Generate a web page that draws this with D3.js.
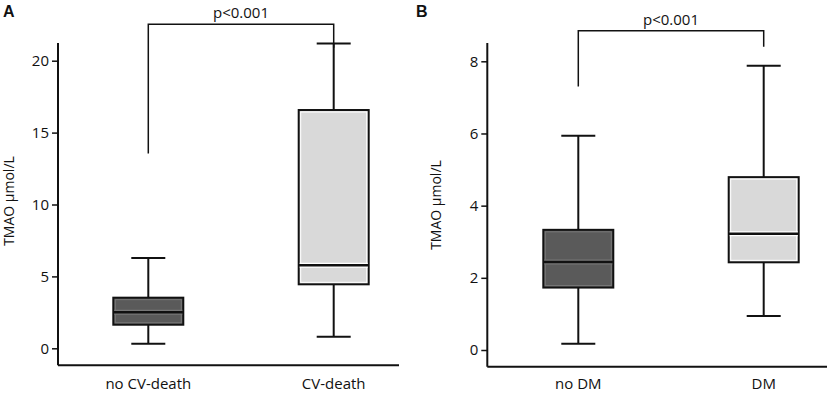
<!DOCTYPE html>
<html><head><meta charset="utf-8">
<script src="https://cdn.jsdelivr.net/npm/d3@7"></script>
<style>body{margin:0;background:#fff}svg{display:block}text{font-family:"Open Sans",sans-serif;fill:#111}</style>
</head><body><svg width="829" height="394"></svg>
<script>
// Panel A
const catsA = ["no CV-death", "CV-death"];
const statsA = [ // [min, q1, median, q3, max]
  [0.32, 1.64, 2.5, 3.52, 6.28],
  [0.81, 4.45, 5.77, 16.57, 21.2]
];
const ticksA = [0, 5, 10, 15, 20];
const bracketA = {left: 13.55, right: 20.9, label: "p<0.001"};
// Panel B
const catsB = ["no DM", "DM"];
const statsB = [
  [0.17, 1.73, 2.44, 3.33, 5.94],
  [0.94, 2.43, 3.22, 4.79, 7.88]
];
const ticksB = [0, 2, 4, 6, 8];
const bracketB = {left: 7.3, right: 8.4, label: "p<0.001"};
const fills = ["#5a5a5a", "#d9d9d9"];
const yLabel = "TMAO µmol/L";

const svg = d3.select("svg");

function panel(o) {
  const g = svg.append("g");
  const y = d3.scaleLinear().domain(o.domain).range(o.yRange);
  const x = d3.scalePoint().domain(o.cats).range(o.xPts);
  g.append("line").attr("x1", o.axisX).attr("x2", o.axisX).attr("y1", o.axisTop).attr("y2", o.axisBottom)
    .attr("stroke", "#111").attr("stroke-width", 2);
  g.append("line").attr("x1", o.axisX).attr("x2", o.axisRight).attr("y1", o.axisBottom).attr("y2", o.axisBottom)
    .attr("stroke", "#111").attr("stroke-width", 2);
  const ax = g.append("g").attr("transform", `translate(${o.axisX},0)`)
    .call(d3.axisLeft(y).tickValues(o.ticks).tickSize(6).tickPadding(3).tickFormat(d3.format("d")));
  ax.select(".domain").remove();
  ax.selectAll(".tick line").attr("stroke", "#111").attr("stroke-width", 1.5);
  ax.selectAll(".tick text").style("font-size", "15px").style("font-family", "Open Sans").attr("fill", "#111");
  g.selectAll(".xl").data(o.cats).enter().append("text")
    .attr("x", d => x(d)).attr("y", 389).attr("text-anchor", "middle").style("font-size", "15px").text(d => d);
  g.append("text").attr("transform", `translate(${o.ylabX},${o.ylabY}) rotate(-90)`)
    .attr("text-anchor", "middle").style("font-size", "14px").text(yLabel);
  g.append("text").attr("x", o.letterX).attr("y", 17).style("font-size", "16px").style("font-weight", "bold")
    .style("font-family", "Liberation Sans, Arial").text(o.letter);
  const bw = 70, cw = 34;
  o.stats.forEach((s, i) => {
    const cx = x(o.cats[i]);
    const bg = g.append("g");
    bg.append("line").attr("x1", cx).attr("x2", cx).attr("y1", y(s[0])).attr("y2", y(s[4])).attr("stroke", "#111").attr("stroke-width", 2);
    [s[0], s[4]].forEach(v => bg.append("line").attr("x1", cx - cw / 2).attr("x2", cx + cw / 2)
      .attr("y1", y(v)).attr("y2", y(v)).attr("stroke", "#111").attr("stroke-width", 2));
    bg.append("rect").attr("x", cx - bw / 2).attr("width", bw).attr("y", y(s[3])).attr("height", y(s[1]) - y(s[3]))
      .attr("fill", fills[i]).attr("stroke", "#111").attr("stroke-width", 2);
    const inner = i === 1 ? "#fff" : "#777";
    bg.append("rect").attr("x", cx - bw / 2 + 2).attr("width", bw - 4).attr("y", y(s[3]) + 2).attr("height", y(s[1]) - y(s[3]) - 4)
      .attr("fill", "none").attr("stroke", inner).attr("stroke-width", 1);
    bg.append("line").attr("x1", cx - bw / 2 + 1).attr("x2", cx + bw / 2 - 1).attr("y1", y(s[2])).attr("y2", y(s[2]))
      .attr("stroke", inner).attr("stroke-width", 5);
    bg.append("line").attr("x1", cx - bw / 2).attr("x2", cx + bw / 2).attr("y1", y(s[2])).attr("y2", y(s[2]))
      .attr("stroke", "#111").attr("stroke-width", 2.5);
  });
  const xl = x(o.cats[0]), xr = x(o.cats[1]);
  g.append("path").attr("d", `M${xl},${y(o.bracket.left)}V${o.bracketTop}H${xr}V${y(o.bracket.right)}`)
    .attr("fill", "none").attr("stroke", "#111").attr("stroke-width", 1.5);
  g.append("text").attr("x", (xl + xr) / 2).attr("y", o.bracketTop - 6).attr("text-anchor", "middle")
    .style("font-size", "15px").text(o.bracket.label);
}

panel({cats: catsA, stats: statsA, ticks: ticksA, bracket: bracketA, domain: [0, 20], yRange: [348.3, 60.7],
  xPts: [148.3, 333.7], axisX: 58, axisTop: 43, axisBottom: 365.3, axisRight: 399, bracketTop: 24.3,
  ylabX: 14, ylabY: 201, letter: "A", letterX: 3});
panel({cats: catsB, stats: statsB, ticks: ticksB, bracket: bracketB, domain: [0, 8], yRange: [350, 61.3],
  xPts: [578.3, 763.7], axisX: 487.3, axisTop: 43, axisBottom: 366.7, axisRight: 827, bracketTop: 30.7,
  ylabX: 441, ylabY: 205, letter: "B", letterX: 416});
</script></body></html>
